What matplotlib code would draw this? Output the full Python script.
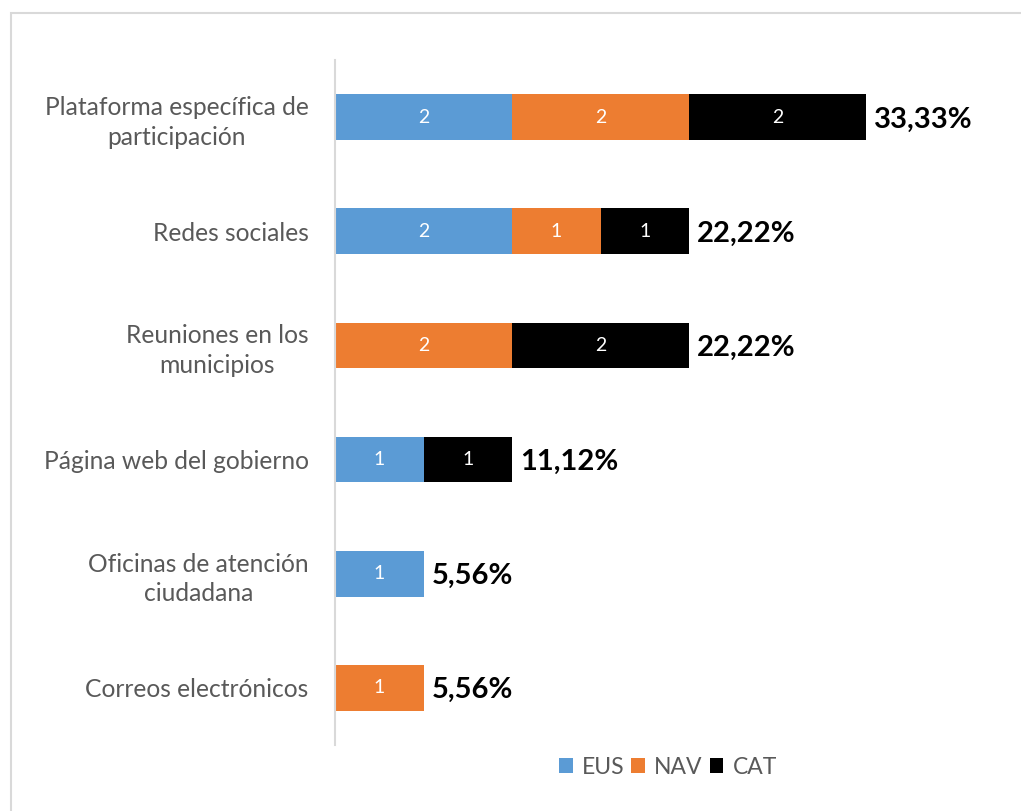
import matplotlib
matplotlib.use("Agg")
import matplotlib.pyplot as plt
from matplotlib.patches import Rectangle

plt.rcParams['font.family'] = ['Lato', 'DejaVu Sans']

categories = [
    "Plataforma específica de\nparticipación",
    "Redes sociales",
    "Reuniones en los\nmunicipios",
    "Página web del gobierno",
    "Oficinas de atención\nciudadana",
    "Correos electrónicos",
]
series_names = ["EUS", "NAV", "CAT"]
eus = [2, 2, 0, 1, 1, 0]
nav = [2, 1, 2, 0, 0, 1]
cat = [2, 1, 2, 1, 0, 0]
pct_labels = ["33,33%", "22,22%", "22,22%", "11,12%", "5,56%", "5,56%"]
colors = ["#5b9bd5", "#ed7d31", "#000000"]

W, H = 1021, 811
fig = plt.figure(figsize=(W / 100, H / 100), dpi=100)

# outer chart border
fig.patches.append(Rectangle((10.5 / W, -0.05), 1.1, (H - 12.5) / H + 0.05,
                             transform=fig.transFigure, fill=False,
                             edgecolor="#d9d9d9", linewidth=1.5))

ax = fig.add_axes([335 / W, 1 - 745 / H, (999 - 335) / W, (745 - 60) / H])
ypos = list(range(len(categories)))
left = [0] * len(categories)
for name, vals, col in zip(series_names, [eus, nav, cat], colors):
    ax.barh(ypos, vals, left=left, height=0.4, color=col, label=name)
    for y, v, l in zip(ypos, vals, left):
        if v:
            ax.text(l + v / 2, y, str(v), ha="center", va="center",
                    color="white", fontsize=14)
    left = [a + b for a, b in zip(left, vals)]

for y, total, lab in zip(ypos, left, pct_labels):
    ax.text(total + 0.09, y + 0.02, lab, ha="left", va="center",
            fontsize=21, fontweight="bold", color="black")

ax.set_ylim(len(categories) - 0.5, -0.5)
ax.set_xlim(0, 7.5)
ax.set_yticks(ypos)
ax.set_yticklabels(categories, fontsize=17.7, color="#595959",
                   multialignment="center", linespacing=1.35)
ax.tick_params(axis="y", length=0, pad=19)
ax.set_xticks([])
for s in ["top", "right", "bottom"]:
    ax.spines[s].set_visible(False)
ax.spines["left"].set_color("#d9d9d9")
ax.spines["left"].set_linewidth(1.5)

leg = fig.legend(loc="center", bbox_to_anchor=(668 / W, 1 - 767 / H), ncol=3,
                 frameon=False, fontsize=16.5, handlelength=0.6, handleheight=0.6,
                 handletextpad=0.4, columnspacing=0.3)
for t in leg.get_texts():
    t.set_color("#595959")

fig.savefig("out.png", dpi=100)
